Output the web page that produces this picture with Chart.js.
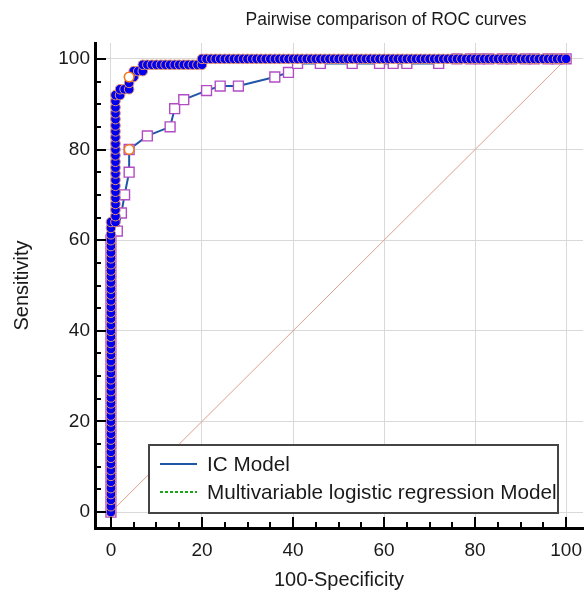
<!DOCTYPE html>
<html><head><meta charset="utf-8">
<script src="https://cdn.jsdelivr.net/npm/chart.js@4.4.1/dist/chart.umd.min.js"></script>
<style>html,body{margin:0;padding:0;background:#fff}#wrap{width:586px;height:596px}</style>
</head><body><div id="wrap"><canvas id="c" width="586" height="596"></canvas></div>
<script>
const chartTitle = 'Pairwise comparison of ROC curves';
const xAxisTitle = '100-Specificity';
const yAxisTitle = 'Sensitivity';
const seriesNames = ['IC Model', 'Multivariable logistic regression Model'];
const tickValues = [0, 20, 40, 60, 80, 100];

// IC Model (open squares) : [100-Specificity, Sensitivity]
const icPoints = [
 [0,0],[0,2.5],[0,5],[0,7.5],[0,10],[0,12.5],[0,15],[0,17.5],[0,20],[0,22.5],[0,25],[0,27.5],[0,30],
 [0,32.5],[0,35],[0,37.5],[0,40],[0,42.5],[0,45],[0,47.5],[0,50],[0,52.5],[0,55],[0,57.5],[0,60],
 [1.4,62],[2.3,66],[3,70],[4,75],[4,80],[8,83],[13,85],[14,89],[16,91],[21,93],[24,94],[28,94],
 [36,96],[39,97],[41,99],[46,99],[53,99],[59,99],[62,99],[65,99],[72,99],
 [76,100],[79,100],[81,100],[83,100],[86,100],[88,100],[91,100],[93,100],[96,100],[98,100],[100,100]
];

// Multivariable logistic regression Model (filled circles)
const mlrPoints = [
 [0,0],[0,1.3],[0,2.7],[0,4],[0,5.3],[0,6.7],[0,8],[0,9.3],[0,10.7],[0,12],[0,13.3],[0,14.7],[0,16],
 [0,17.3],[0,18.7],[0,20],[0,21.3],[0,22.7],[0,24],[0,25.3],[0,26.7],[0,28],[0,29.3],[0,30.7],[0,32],
 [0,33.3],[0,34.7],[0,36],[0,37.3],[0,38.7],[0,40],[0,41.3],[0,42.7],[0,44],[0,45.3],[0,46.7],[0,48],
 [0,49.3],[0,50.7],[0,52],[0,53.3],[0,54.7],[0,56],[0,57.3],[0,58.7],[0,60],[0,61.3],[0,62.7],[0,64],
 [1,64],[1,65.3],[1,66.7],[1,68],[1,69.3],[1,70.7],[1,72],[1,73.3],[1,74.7],[1,76],[1,77.3],[1,78.7],
 [1,80],[1,81.3],[1,82.7],[1,84],[1,85.3],[1,86.7],[1,88],[1,89.3],[1,90.7],[1,92],
 [2,92],[2,93.3],[3,93.3],[4,93.3],[4,94.7],[4,96],[5,96],[5,97.3],[6,97.3],[7,97.3],[7,98.7],[8,98.7],
 [9,98.7],[10,98.7],[11,98.7],[12,98.7],[13,98.7],[14,98.7],[15,98.7],[16,98.7],[17,98.7],[18,98.7],
 [19,98.7],[20,98.7],
 [20,100],[21,100],[22,100],[23,100],[24,100],[25,100],[26,100],[27,100],[28,100],[29,100],[30,100],
 [31,100],[32,100],[33,100],[34,100],[35,100],[36,100],[37,100],[38,100],[39,100],[40,100],[41,100],
 [42,100],[43,100],[44,100],[45,100],[46,100],[47,100],[48,100],[49,100],[50,100],[51,100],[52,100],
 [53,100],[54,100],[55,100],[56,100],[57,100],[58,100],[59,100],[60,100],[61,100],[62,100],[63,100],
 [64,100],[65,100],[66,100],[67,100],[68,100],[69,100],[70,100],[71,100],[72,100],[73,100],[74,100],
 [75,100],[76,100],[77,100],[78,100],[79,100],[80,100],[81,100],[82,100],[83,100],[84,100],[85,100],
 [86,100],[87,100],[88,100],[89,100],[90,100],[91,100],[92,100],[93,100],[94,100],[95,100],[96,100],
 [97,100],[98,100],[99,100],[100,100]
];

// Optimal cut-off points (orange circles)
const cutoffPoints = [[4,80],[4,96]];
// Reference diagonal
const diagonalPoints = [[0,0],[100,100]];

const FONT = "'Liberation Sans', Arial, sans-serif";
const IC_COLOR = '#1f56a8';
const MLR_COLOR = '#1aa51a';
const toXY = arr => arr.map(p => ({x: p[0], y: p[1]}));

const overlay = {
  id: 'overlay',
  afterDraw(chart) {
    const ctx = chart.ctx, ca = chart.chartArea;
    const xs = chart.scales.x, ys = chart.scales.y;
    ctx.save();
    // inward tick marks
    ctx.strokeStyle = '#000'; ctx.lineWidth = 2;
    for (let v = 0; v <= 100; v += 5) {
      const major = tickValues.includes(v);
      const len = major ? 11 : 6;
      const px = Math.round(xs.getPixelForValue(v));
      const py = Math.round(ys.getPixelForValue(v));
      ctx.beginPath(); ctx.moveTo(px, ca.bottom); ctx.lineTo(px, ca.bottom - len); ctx.stroke();
      ctx.beginPath(); ctx.moveTo(ca.left, py); ctx.lineTo(ca.left + len, py); ctx.stroke();
    }
    // title
    ctx.fillStyle = '#1a1a1a';
    ctx.font = '17.5px ' + FONT;
    ctx.textAlign = 'center'; ctx.textBaseline = 'middle';
    ctx.fillText(chartTitle, 386, 20);
    // legend box
    const bx = 149, by = 445, bw = 409, bh = 68;
    ctx.fillStyle = '#fff'; ctx.fillRect(bx, by, bw, bh);
    ctx.strokeStyle = '#444'; ctx.lineWidth = 2; ctx.strokeRect(bx, by, bw, bh);
    const rows = [
      {name: seriesNames[0], color: IC_COLOR, dash: []},
      {name: seriesNames[1], color: MLR_COLOR, dash: [3, 2]}
    ];
    ctx.font = '20.7px ' + FONT;
    ctx.textAlign = 'left'; ctx.textBaseline = 'middle';
    rows.forEach((r, i) => {
      const y = by + 19 + i * 28;
      ctx.strokeStyle = r.color; ctx.lineWidth = 2; ctx.setLineDash(r.dash);
      ctx.beginPath(); ctx.moveTo(bx + 11, y); ctx.lineTo(bx + 48, y); ctx.stroke();
      ctx.setLineDash([]);
      ctx.fillStyle = '#1a1a1a';
      ctx.fillText(r.name, bx + 58, y + 1);
    });
    ctx.restore();
  }
};

new Chart(document.getElementById('c'), {
  type: 'scatter',
  data: {
    datasets: [
      {
        label: 'cutoff', data: toXY(cutoffPoints), order: 0, showLine: false,
        pointStyle: 'circle', pointRadius: 4.8, pointBackgroundColor: '#ffffff',
        pointBorderColor: '#f07a1e', pointBorderWidth: 1.6
      },
      {
        label: seriesNames[1], data: toXY(mlrPoints), order: 1, showLine: true,
        borderColor: MLR_COLOR, borderWidth: 2, borderDash: [3, 2], tension: 0,
        pointStyle: 'circle', pointRadius: 4.8, pointBackgroundColor: '#0000f0',
        pointBorderColor: '#e8956a', pointBorderWidth: 1
      },
      {
        label: seriesNames[0], data: toXY(icPoints), order: 2, showLine: true,
        borderColor: IC_COLOR, borderWidth: 2, tension: 0,
        pointStyle: 'rect', pointRadius: 7, pointBackgroundColor: '#ffffff',
        pointBorderColor: '#b24cc4', pointBorderWidth: 1.4
      },
      {
        label: 'diagonal', data: toXY(diagonalPoints), order: 3, showLine: true,
        borderColor: '#df9f8c', borderWidth: 1, pointRadius: 0
      }
    ]
  },
  options: {
    responsive: false, animation: false, devicePixelRatio: 1,
    layout: {padding: {top: 43, right: 3, bottom: 0, left: 0}, autoPadding: false},
    plugins: {legend: {display: false}, title: {display: false}, tooltip: {enabled: false}},
    events: [],
    scales: {
      x: {
        type: 'linear', min: -3.5, max: 103.7,
        afterBuildTicks: s => { s.ticks = tickValues.map(v => ({value: v})); },
        afterFit: s => { s.height = 68; s.paddingLeft = 0; s.paddingRight = 0; },
        grid: {color: '#d9d9d9', lineWidth: 1, drawTicks: false},
        border: {display: true, color: '#000', width: 3},
        ticks: {padding: 11, autoSkip: false, maxRotation: 0, color: '#1a1a1a', font: {family: FONT, size: 19}},
        title: {display: true, text: xAxisTitle, color: '#1a1a1a', font: {family: FONT, size: 20}, padding: {top: 0, bottom: 4}}
      },
      y: {
        type: 'linear', min: -3.5, max: 103.5,
        afterBuildTicks: s => { s.ticks = tickValues.map(v => ({value: v})); },
        afterFit: s => { s.width = 95; s.paddingTop = 0; s.paddingBottom = 0; },
        grid: {color: '#d9d9d9', lineWidth: 1, drawTicks: false},
        border: {display: true, color: '#000', width: 3},
        ticks: {padding: 5, autoSkip: false, color: '#1a1a1a', font: {family: FONT, size: 19}},
        title: {display: true, text: yAxisTitle, color: '#1a1a1a', font: {family: FONT, size: 20}, padding: {top: 10, bottom: 0}}
      }
    }
  },
  plugins: [overlay]
});
</script>
</body></html>
